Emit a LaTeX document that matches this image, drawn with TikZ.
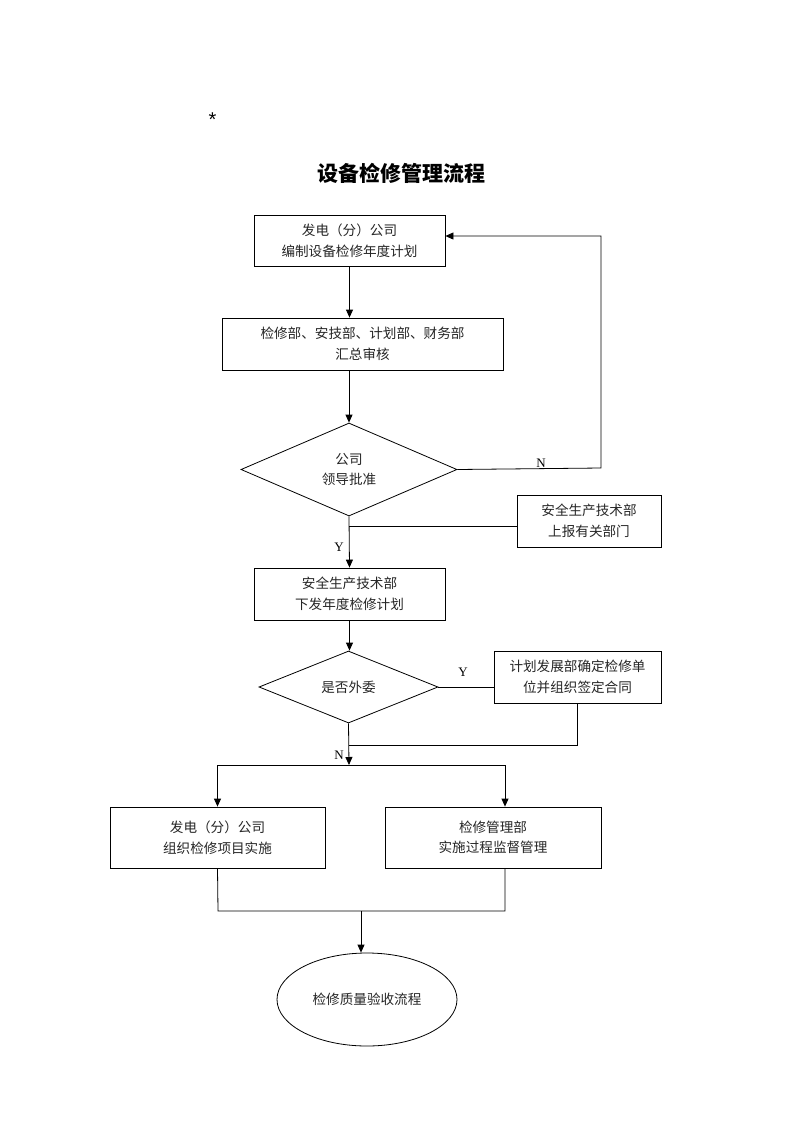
\documentclass[tikz,border=0pt]{standalone}
\usepackage{fontspec}
\setmainfont{Liberation Serif}
\newfontfamily\cjk{Noto Sans CJK SC}
\newfontfamily\sansf{Liberation Sans}
\usetikzlibrary{shapes.geometric,arrows.meta}
\begin{document}
\begin{tikzpicture}[x=1pt,y=-1pt,
  every path/.style={line width=0.8pt},
  txt/.style={font=\cjk\fontsize{13.6}{20.5}\selectfont, text=black!85, align=center},
  box/.style={draw, txt, inner sep=0pt},
  dia/.style={draw, diamond, txt, inner sep=0pt},
  oval/.style={draw, ellipse, txt, inner sep=0pt},
  lab/.style={font=\fontsize{13}{14}\selectfont, inner sep=0pt},
  arr/.style={-{Triangle[length=8pt,width=7pt]}}
]
\useasboundingbox (0,0) rectangle (793,1122);
\fill[white] (0,0) rectangle (793,1122);

\node[font=\sansf\fontsize{20}{20}\selectfont, inner sep=0pt, anchor=north] (star) at (212.5,112) {*};
\node[font=\cjk\bfseries\fontsize{21}{24}\selectfont, inner sep=0pt] (title) at (401,173) {设备检修管理流程};

\node[box, minimum width=191pt, minimum height=51pt] (b1) at (349.5,240.5) {发电（分）公司\\编制设备检修年度计划};
\node[box, minimum width=281pt, minimum height=52pt] (b2) at (362.5,344) {检修部、安技部、计划部、财务部\\汇总审核};
\node[dia, minimum width=216pt, minimum height=93pt] (d1) at (349,469.5) {公司\\领导批准};
\node[box, minimum width=144pt, minimum height=52pt] (sb) at (589,521) {安全生产技术部\\上报有关部门};
\node[box, minimum width=191pt, minimum height=52pt] (b3) at (349.5,594) {安全生产技术部\\下发年度检修计划};
\node[dia, minimum width=179pt, minimum height=72pt] (d2) at (348.5,687) {是否外委};
\node[box, minimum width=167pt, minimum height=52pt] (b4) at (577.5,677) {计划发展部确定检修单\\位并组织签定合同};
\node[box, minimum width=215pt, minimum height=61pt] (b5) at (217.5,837.5) {发电（分）公司\\组织检修项目实施};
\node[box, minimum width=216pt, minimum height=61pt] (b6) at (493,837.5) {检修管理部\\实施过程监督管理};
\node[oval, minimum width=180pt, minimum height=93pt] (e1) at (367,999.5) {检修质量验收流程};

\node[lab] (lN1) at (541,463) {N};
\node[lab] (lY1) at (339,547) {Y};
\node[lab] (lY2) at (463,672) {Y};
\node[lab] (lN2) at (339,755) {N};

\coordinate (nc) at (601,468);
\coordinate (j1) at (349,526);
\coordinate (j2) at (349,745);
\coordinate (j3) at (349,765);
\coordinate (jr) at (505,765);
\coordinate (k1) at (218,911);
\coordinate (k2) at (505,911);
\coordinate (k3) at (361,911);

\draw[arr] (b1.south) -- (b1.south |- b2.north);
\draw[arr] (b2.south -| d1.north) -- (d1.north);
\draw[arr] (d1.east) -- (nc) |- ([yshift=4.5pt]b1.east);
\draw (j1) -- (j1 -| sb.west);
\draw[arr] (d1.south) -- (b3.north);
\draw[arr] (b3.south) -- (b3.south |- d2.north);
\draw (d2.east) -- (d2.east -| b4.west);
\draw (b4.south) |- (j2);
\draw[arr] (d2.south) -- (j3);
\draw (j3 -| b5.north) -- (jr);
\draw[arr] (j3 -| b5.north) -- (b5.north);
\draw[arr] (jr) -- (jr |- b6.north);
\draw (b5.south) -- (k1) -- (k2) -- (k2 |- b6.south);
\draw[arr] (k3) -- (k3 |- e1.north);
\end{tikzpicture}
\end{document}
